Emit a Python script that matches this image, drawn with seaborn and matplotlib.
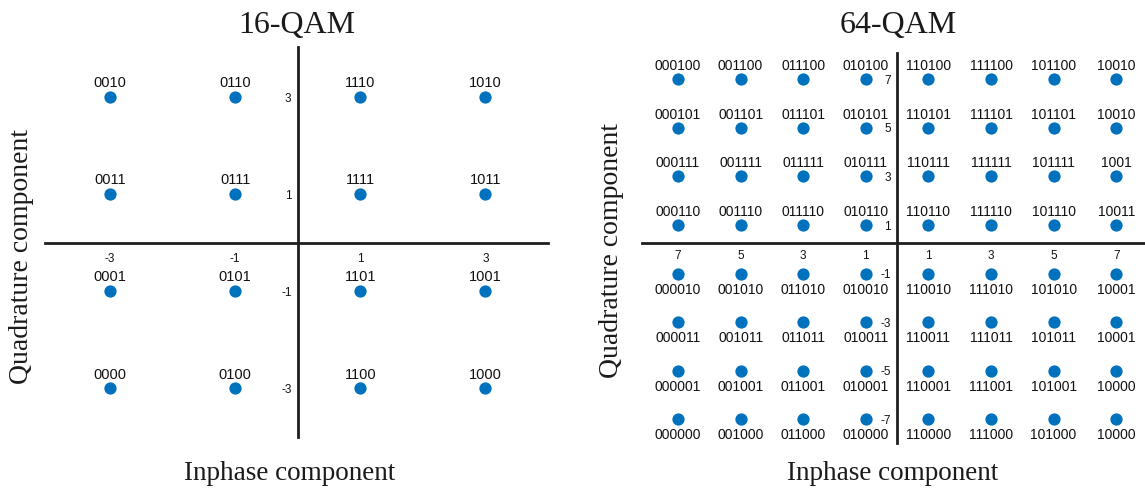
import numpy as np
import pandas as pd
import matplotlib
matplotlib.use("Agg")
import matplotlib.pyplot as plt
import seaborn as sns

# ---- 16-QAM constellation ----
qam16_levels_i = [-3, -1, 1, 3]
qam16_levels_q = [3, 1, -1, -3]
qam16_bits = [
    ["0010", "0110", "1110", "1010"],
    ["0011", "0111", "1111", "1011"],
    ["0001", "0101", "1101", "1001"],
    ["0000", "0100", "1100", "1000"],
]
qam16_xticks = [-3, -1, 1, 3]
qam16_xticklabels = ["-3", "-1", "1", "3"]
qam16_yticks = [3, 1, -1, -3]
qam16_yticklabels = ["3", "1", "-1", "-3"]

# ---- 64-QAM constellation ----
qam64_levels_i = [-7, -5, -3, -1, 1, 3, 5, 7]
qam64_levels_q = [7, 5, 3, 1, -1, -3, -5, -7]
qam64_bits = [
    ["000100", "001100", "011100", "010100", "110100", "111100", "101100", "10010"],
    ["000101", "001101", "011101", "010101", "110101", "111101", "101101", "10010"],
    ["000111", "001111", "011111", "010111", "110111", "111111", "101111", "1001"],
    ["000110", "001110", "011110", "010110", "110110", "111110", "101110", "10011"],
    ["000010", "001010", "011010", "010010", "110010", "111010", "101010", "10001"],
    ["000011", "001011", "011011", "010011", "110011", "111011", "101011", "10001"],
    ["000001", "001001", "011001", "010001", "110001", "111001", "101001", "10000"],
    ["000000", "001000", "011000", "010000", "110000", "111000", "101000", "10000"],
]
qam64_xticks = [-7, -5, -3, -1, 1, 3, 5, 7]
qam64_xticklabels = ["7", "5", "3", "1", "1", "3", "5", "7"]
qam64_yticks = [7, 5, 3, 1, -1, -3, -5, -7]
qam64_yticklabels = ["7", "5", "3", "1", "-1", "-3", "-5", "-7"]

POINT_COLOR = "#0072BD"
AXIS_COLOR = "#1e1e1e"
SERIF = ["Liberation Serif", "DejaVu Serif"]
SANS = ["Liberation Sans", "DejaVu Sans"]

sns.set_theme(style="white")
plt.rcParams["font.family"] = SANS
plt.rcParams["axes.unicode_minus"] = False


def grid_frame(levels_i, levels_q, bits):
    rows = []
    for r, q in enumerate(levels_q):
        for c, i in enumerate(levels_i):
            rows.append({"I": i, "Q": q, "bits": bits[r][c]})
    return pd.DataFrame(rows)


def style_axes(ax, xticks, xlabels, yticks, ylabels, xpad, ypad, xaxis_at):
    for side in ("top", "right"):
        ax.spines[side].set_visible(False)
    ax.spines["left"].set_position(("data", 0))
    ax.spines["bottom"].set_position(("data", xaxis_at))
    for side in ("left", "bottom"):
        ax.spines[side].set_linewidth(2.0)
        ax.spines[side].set_color(AXIS_COLOR)
    ax.set_xticks(xticks)
    ax.set_xticklabels(xlabels)
    ax.set_yticks(yticks)
    ax.set_yticklabels(ylabels)
    ax.tick_params(axis="both", direction="in", length=4, width=1,
                   colors=AXIS_COLOR, labelsize=8.5, labelcolor="#111111")
    ax.tick_params(axis="x", pad=xpad)
    ax.tick_params(axis="y", pad=ypad)
    ax.set_xlabel("")
    ax.set_ylabel("")
    ax.patch.set_alpha(0)


fig = plt.figure(figsize=(11.45, 4.92), dpi=100)

# ---- left panel: 16-QAM ----
ax16 = fig.add_axes([45 / 1145, 55 / 492, 503 / 1145, 390 / 492])
df16 = grid_frame(qam16_levels_i, qam16_levels_q, qam16_bits)
sns.scatterplot(data=df16, x="I", y="Q", ax=ax16, color=POINT_COLOR,
                s=78, linewidth=0, zorder=3, legend=False)
ax16.set_xlim(-4.04, 4.0)
ax16.set_ylim(-4.0, 4.03)
style_axes(ax16, qam16_xticks, qam16_xticklabels, qam16_yticks,
           qam16_yticklabels, xpad=7.5, ypad=4.5, xaxis_at=0)
for _, row in df16.iterrows():
    ax16.annotate(row["bits"], (row["I"], row["Q"]), xytext=(0, 10),
                  textcoords="offset points", ha="center", va="center",
                  fontsize=10.5, color="#111111")

# ---- right panel: 64-QAM ----
ax64 = fig.add_axes([642 / 1145, 49 / 492, 503 / 1145, 390 / 492])
df64 = grid_frame(qam64_levels_i, qam64_levels_q, qam64_bits)
sns.scatterplot(data=df64, x="I", y="Q", ax=ax64, color=POINT_COLOR,
                s=78, linewidth=0, zorder=3, legend=False)
ax64.set_xlim(-8.15, 7.92)
ax64.set_ylim(-7.97, 8.08)
style_axes(ax64, qam64_xticks, qam64_xticklabels, qam64_yticks,
           qam64_yticklabels, xpad=4.5, ypad=4.5, xaxis_at=0.25)
for _, row in df64.iterrows():
    above = row["Q"] > 0
    ax64.annotate(row["bits"], (row["I"], row["Q"]),
                  xytext=(0, 9.4 if above else -11.5),
                  textcoords="offset points", ha="center", va="center",
                  fontsize=10, color="#111111")

# ---- titles and axis names ----
for cx, title in ((297, "16-QAM"), (898, "64-QAM")):
    fig.text(cx / 1145, 1 - 25 / 492, title, ha="center", va="center",
             fontsize=23, family=SERIF, color="#1a1a1a")
for cx in (290, 893):
    fig.text(cx / 1145, 1 - 473 / 492, "Inphase component", ha="center",
             va="center", fontsize=19.5, family=SERIF, color="#1a1a1a")
for cx, cy in ((22, 257), (612, 251)):
    fig.text(cx / 1145, 1 - cy / 492, "Quadrature component", ha="center",
             va="center", rotation=90, fontsize=20, family=SERIF,
             color="#1a1a1a")

fig.savefig("out.png", dpi=100, facecolor="white")
